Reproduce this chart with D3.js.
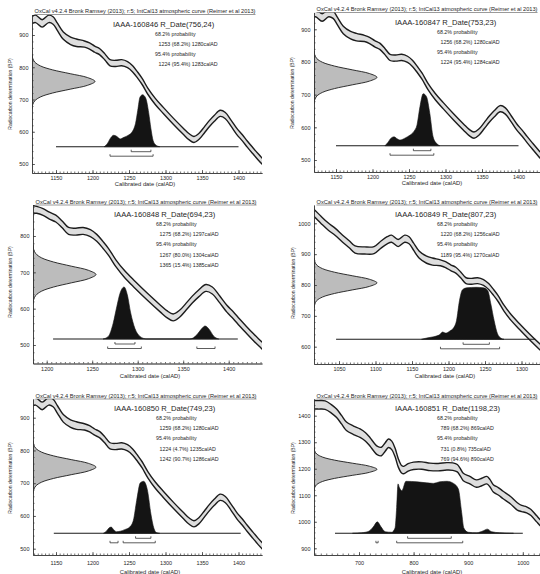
<!DOCTYPE html>
<html><head><meta charset="utf-8">
<script src="https://d3js.org/d3.v7.min.js"></script>
<style>
html,body{margin:0;padding:0;background:#fff}
svg{display:block}
text{font-family:"Liberation Sans",Arial,Helvetica,sans-serif;fill:#262626}
</style></head>
<body><svg id="chart" width="540" height="574"></svg>
<script>
// ---------------- data ----------------
const headerText = "OxCal v4.2.4 Bronk Ramsey (2013); r:5; IntCal13 atmospheric curve (Reimer et al 2013)";
const labIds = ["IAAA-160846","IAAA-160847","IAAA-160848","IAAA-160849","IAAA-160850","IAAA-160851"];
const rDateMean = [756,753,694,807,749,1198];
const rDateSigma = [24,23,23,23,23,23];
const range68 = [[[1253,1280,68.2]],[[1256,1280,68.2]],[[1275,1297,68.2]],[[1220,1256,68.2]],[[1259,1280,68.2]],[[789,869,68.2]]];
const range95 = [[[1224,1283,95.4]],[[1224,1284,95.4]],[[1267,1304,80.0],[1365,1385,15.4]],[[1189,1270,95.4]],[[1224,1235,4.7],[1242,1286,90.7]],[[731,735,0.8],[769,890,94.6]]];
const xTickValues = [[1150,1200,1250,1300,1350,1400],[1150,1200,1250,1300,1350,1400],[1200,1250,1300,1350,1400],[1050,1100,1150,1200,1250,1300],[1150,1200,1250,1300,1350,1400],[700,800,900,1000]];
const yTickValues = [[500,600,700,800,900],[500,600,700,800,900],[500,600,700,800],[600,700,800,900,1000],[500,600,700,800,900],[900,1000,1100,1200,1300,1400]];
const baselineRange = [[1150,1400],[1150,1400],[1207,1410],[1046,1319],[1147,1403],[656,1000]];

// IntCal13 calibration curve (calAD, BP, 1 sigma)
const calYear = [612,625,638,650,659,668,677,690,702,712,720,728,734,741,748,754,760,766,772,778,782,790,800,815,830,845,861,872,880,886,891,903,915,925,934,940,946,955,964,977,990,998,1007,1015,1025,1035,1045,1055,1064,1072,1085,1098,1108,1116,1122,1131,1140,1146,1152,1160,1170,1178,1189,1196,1203,1210,1217,1224,1232,1240,1248,1255,1262,1268,1276,1286,1297,1311,1325,1332,1339,1346,1353,1360,1367,1375,1382,1390,1398,1405,1412,1419,1427,1436,1445];
const calBP = [1442,1441,1440,1425,1409,1385,1360,1345,1334,1320,1302,1280,1268,1265,1282,1296,1288,1262,1222,1198,1195,1205,1211,1212,1207,1206,1209,1208,1202,1185,1169,1157,1144,1150,1157,1145,1126,1115,1101,1082,1058,1050,1045,1035,1012,990,972,950,932,915,912,913,932,945,950,936,950,945,925,898,882,876,872,866,856,848,832,814,812,814,808,795,775,756,725,694,666,632,600,585,576,586,605,625,642,657,650,626,600,582,562,543,522,500,478];
const calErr = [16,16,16,16,16,16,16,16,16,16,16,16,16,16,16,16,16,16,16,14,14,14,14,14,14,14,14,14,14,14,14,14,14,14,14,14,14,14,14,14,14,11.5,11.5,11.5,11.5,11.5,11.5,11.5,11.5,11.5,11.5,11.5,11.5,11.5,11.5,11.5,11.5,11.5,11.5,11.5,11.5,11.5,9.5,9.5,9.5,9.5,9.5,9.5,9.5,9.5,9.5,9.5,9.5,9.5,9.5,9.5,9.5,9.5,9.5,9.5,9.5,9.5,9.5,9.5,9.5,9.5,9.5,9.5,9.5,9.5,9.5,9.5,9.5,9.5,9.5];

// radiocarbon measurement shape (relative density vs. sigma offset)
const normalZ = [-3.5,-3,-2.5,-2,-1.5,-1,-0.5,0,0.5,1,1.5,2,2.5,3,3.5];
const normalDens = [0.002,0.011,0.044,0.135,0.325,0.607,0.882,1,0.882,0.607,0.325,0.135,0.044,0.011,0.002];

// calibrated (posterior) distributions: [calAD, relative density]
const post1 = [[1216,0],[1220,0.05],[1224,0.15],[1229,0.22],[1233,0.2],[1238,0.15],[1243,0.18],[1249,0.22],[1255,0.3],[1259,0.45],[1262,0.7],[1265,0.95],[1268.5,1],[1273,0.93],[1277,0.65],[1280,0.35],[1283,0.12],[1287,0.03],[1292,0]];
const post2 = [[1217,0],[1221,0.06],[1225,0.14],[1229.5,0.17],[1233,0.14],[1238,0.11],[1245,0.15],[1251,0.2],[1257,0.28],[1261,0.4],[1265,0.75],[1269.5,1],[1274,0.94],[1278.5,0.62],[1283,0.17],[1288,0.04],[1292,0]];
const post3 = [[1262,0],[1267.7,0.05],[1273,0.3],[1277,0.62],[1280.6,0.88],[1285,1],[1288.6,0.85],[1292.3,0.5],[1297,0.2],[1302.5,0.05],[1310,0],[1357.5,0],[1365,0.08],[1370.4,0.2],[1374,0.25],[1378.8,0.18],[1383.3,0.06],[1389,0]];
const post4 = [[1163,0],[1172,0.03],[1180,0.05],[1188,0.09],[1192,0.14],[1196,0.12],[1202,0.16],[1207,0.22],[1211,0.36],[1215,0.74],[1219,0.95],[1225,0.99],[1238,1],[1248,0.99],[1254,0.93],[1258,0.68],[1262.5,0.36],[1267,0.11],[1272,0.02],[1276,0]];
const post5 = [[1215,0],[1219,0.04],[1222.5,0.1],[1225.5,0.12],[1229,0.07],[1233,0.03],[1238,0.04],[1244,0.07],[1251,0.12],[1256,0.25],[1260.5,0.63],[1265.5,0.97],[1270,1],[1275.5,0.81],[1280,0.37],[1284,0.1],[1288,0.01],[1292,0]];
const post6 = [[688,0],[705,0.01],[718,0.04],[726,0.12],[733.5,0.22],[740,0.13],[748,0.03],[760,0.02],[766,0.1],[769,0.5],[771.5,0.95],[774,0.88],[778.5,0.82],[786,1],[806,0.99],[824,0.97],[836,0.96],[848,0.99],[861,1],[873,0.96],[882,0.85],[888,0.4],[892,0.1],[900,0.02],[915,0.01],[928,0.05],[935,0.08],[943,0.03],[958,0.01],[983,0]];
const posteriors = [post1,post2,post3,post4,post5,post6];

// ---------------- layout (pixels) ----------------
const layout = [
 {L:32, R:262,T:14.5,B:173, xa:[1150,56,1400,238.5], ya:[500,164,900,35],    base:146.7,pad:3,  xt:[145,186],  yt:[12,94],  minor:5},
 {L:314,R:540,T:12.5,B:172, xa:[1150,336,1400,518.5],ya:[500,160,900,29.3],  base:145.7,pad:3,  xt:[432,185],  yt:[294,93], minor:5},
 {L:33, R:262,T:205, B:363.5,xa:[1200,46.7,1400,228.7],ya:[500,345,800,236],  base:339,  pad:3.5,xt:[150,378],  yt:[12,282], minor:5},
 {L:314,R:540,T:205, B:364, xa:[1050,339,1300,521.5],ya:[600,346.7,1000,223.3],base:339.3,pad:3.5,xt:[445,378],yt:[294.5,283],minor:5},
 {L:33, R:262,T:399, B:555, xa:[1150,56,1400,238.5], ya:[500,548.7,900,417.7],base:533.3,pad:6,  xt:[150,573.5],yt:[12,478], minor:5},
 {L:314,R:540,T:399, B:555, xa:[700,359,1000,522.8], ya:[900,548.3,1400,415.7],base:533.3,pad:6, xt:[432,573.5],yt:[294.5,478],minor:10}
];
const NORMAL_W = 63, POST_H = 52;

// ---------------- drawing ----------------
const svg = d3.select("#chart");
const defs = svg.append("defs");
const cal = calYear.map((yr,k)=>({yr:yr, bp:calBP[k], e:calErr[k]}));

layout.forEach((lay,i)=>{
  const xa = d3.scaleLinear().domain([lay.xa[0],lay.xa[2]]).range([lay.xa[1],lay.xa[3]]);
  const x = d3.scaleLinear().domain([xa.invert(lay.L), xa.invert(lay.R)]).range([lay.L, lay.R]);
  const ya = d3.scaleLinear().domain([lay.ya[0],lay.ya[2]]).range([lay.ya[1],lay.ya[3]]);
  const y = d3.scaleLinear().domain([ya.invert(lay.B), ya.invert(lay.T)]).range([lay.B, lay.T]);

  defs.append("clipPath").attr("id","clip"+i).append("rect")
    .attr("x",lay.L).attr("y",lay.T).attr("width",lay.R-lay.L).attr("height",lay.B-lay.T);
  const g = svg.append("g");
  const plot = g.append("g").attr("clip-path",`url(#clip${i})`);

  // calibration band
  plot.append("path").datum(cal)
    .attr("d", d3.area().x(d=>x(d.yr)).y0(d=>y(d.bp-d.e)).y1(d=>y(d.bp+d.e)).curve(d3.curveCatmullRom))
    .attr("fill","#dedede");
  [1,-1].forEach(s=>{
    plot.append("path").datum(cal)
      .attr("d", d3.line().x(d=>x(d.yr)).y(d=>y(d.bp+s*d.e)).curve(d3.curveCatmullRom))
      .attr("fill","none").attr("stroke","#1c1c1c").attr("stroke-width",1.4);
  });

  // measured radiocarbon date (on the y axis)
  const nd = normalZ.map((z,k)=>({bp: rDateMean[i]+z*rDateSigma[i], d: normalDens[k]}));
  plot.append("path").datum(nd)
    .attr("d", d3.area().y(d=>y(d.bp)).x0(lay.L).x1(d=>lay.L+d.d*NORMAL_W).curve(d3.curveCatmullRom))
    .attr("fill","#bcbcbc").attr("stroke","#1a1a1a").attr("stroke-width",0.9);

  // posterior distribution
  plot.append("path").datum(posteriors[i])
    .attr("d", d3.area().x(d=>x(d[0])).y0(lay.base).y1(d=>lay.base-d[1]*POST_H).curve(d3.curveMonotoneX))
    .attr("fill","#141414").attr("stroke","#141414").attr("stroke-width",0.6);
  plot.append("line")
    .attr("x1",x(baselineRange[i][0])).attr("x2",x(baselineRange[i][1]))
    .attr("y1",lay.base).attr("y2",lay.base).attr("stroke","#1a1a1a").attr("stroke-width",1.1);

  // range brackets
  const bracket = (r, yy)=>{
    const x1 = x(r[0]), x2 = x(r[1]);
    plot.append("path")
      .attr("d",`M${x1},${yy-2}V${yy}H${x2}V${yy-2}`)
      .attr("fill","none").attr("stroke","#333").attr("stroke-width",0.8);
  };
  range68[i].forEach(r=>bracket(r, lay.base+5));
  range95[i].forEach(r=>bracket(r, lay.base+9.5));

  // axes
  const xAxis = d3.axisBottom(x).tickValues(xTickValues[i]).tickSizeInner(-3).tickSizeOuter(0).tickPadding(lay.pad).tickFormat(d3.format("d"));
  const xMinor = d3.axisBottom(x).tickValues(d3.range(Math.ceil(x.domain()[0]/lay.minor)*lay.minor, x.domain()[1], lay.minor)).tickSizeInner(-1.5).tickSizeOuter(0).tickFormat("");
  const yAxis = d3.axisLeft(y).tickValues(yTickValues[i]).tickSizeInner(-3).tickSizeOuter(0).tickPadding(3.5).tickFormat(d3.format("d"));
  const yMinor = d3.axisLeft(y).tickValues(d3.range(Math.ceil(y.domain()[0]/20)*20, y.domain()[1], 20)).tickSizeInner(-1.5).tickSizeOuter(0).tickFormat("");
  [xMinor, xAxis].forEach(ax=>{
    const a = g.append("g").attr("transform",`translate(0,${lay.B})`).call(ax);
    a.selectAll("path,line").attr("stroke","#333").attr("stroke-width",0.7);
    a.selectAll("text").attr("font-size",5.5).attr("fill","#333").attr("font-family",null);
  });
  [yMinor, yAxis].forEach(ax=>{
    const a = g.append("g").attr("transform",`translate(${lay.L},0)`).call(ax);
    a.selectAll("path,line").attr("stroke","#333").attr("stroke-width",0.7);
    a.selectAll("text").attr("font-size",5.5).attr("fill","#333").attr("font-family",null);
  });

  // axis titles
  g.append("text").attr("x",lay.xt[0]).attr("y",lay.xt[1]).attr("text-anchor","middle")
    .attr("font-size",5.8).attr("fill","#333").text("Calibrated date (calAD)");
  g.append("text").attr("transform",`translate(${lay.yt[0]},${lay.yt[1]}) rotate(-90)`).attr("text-anchor","middle")
    .attr("font-size",5).attr("fill","#333").text("Radiocarbon determination (BP)");

  // header
  g.append("text").attr("x",lay.L+2.5).attr("y",lay.T-1.3).attr("font-size",5)
    .attr("textLength",221).attr("lengthAdjust","spacingAndGlyphs").attr("fill","#3a3a3a").text(headerText);
  g.append("line").attr("x1",lay.L+2.5).attr("x2",lay.L+223.5).attr("y1",lay.T).attr("y2",lay.T)
    .attr("stroke","#555").attr("stroke-width",0.6);

  // sample name and ranges
  g.append("text").attr("x",lay.L+81).attr("y",lay.T+12.3).attr("font-size",7.6).attr("fill","#1e1e1e")
    .text(`${labIds[i]} R_Date(${rDateMean[i]},${rDateSigma[i]})`);
  const lines = [{t:"68.2% probability",ind:0}]
    .concat(range68[i].map(r=>({t:`${r[0]} (${r[2].toFixed(1)}%) ${r[1]}calAD`,ind:3.5})))
    .concat([{t:"95.4% probability",ind:0}])
    .concat(range95[i].map(r=>({t:`${r[0]} (${r[2].toFixed(1)}%) ${r[1]}calAD`,ind:3.5})));
  lines.forEach((ln,k)=>{
    g.append("text").attr("x",lay.L+123+ln.ind).attr("y",lay.T+21+k*10.2)
      .attr("font-size",5.3).attr("fill","#2a2a2a").text(ln.t);
  });
});
</script></body></html>
